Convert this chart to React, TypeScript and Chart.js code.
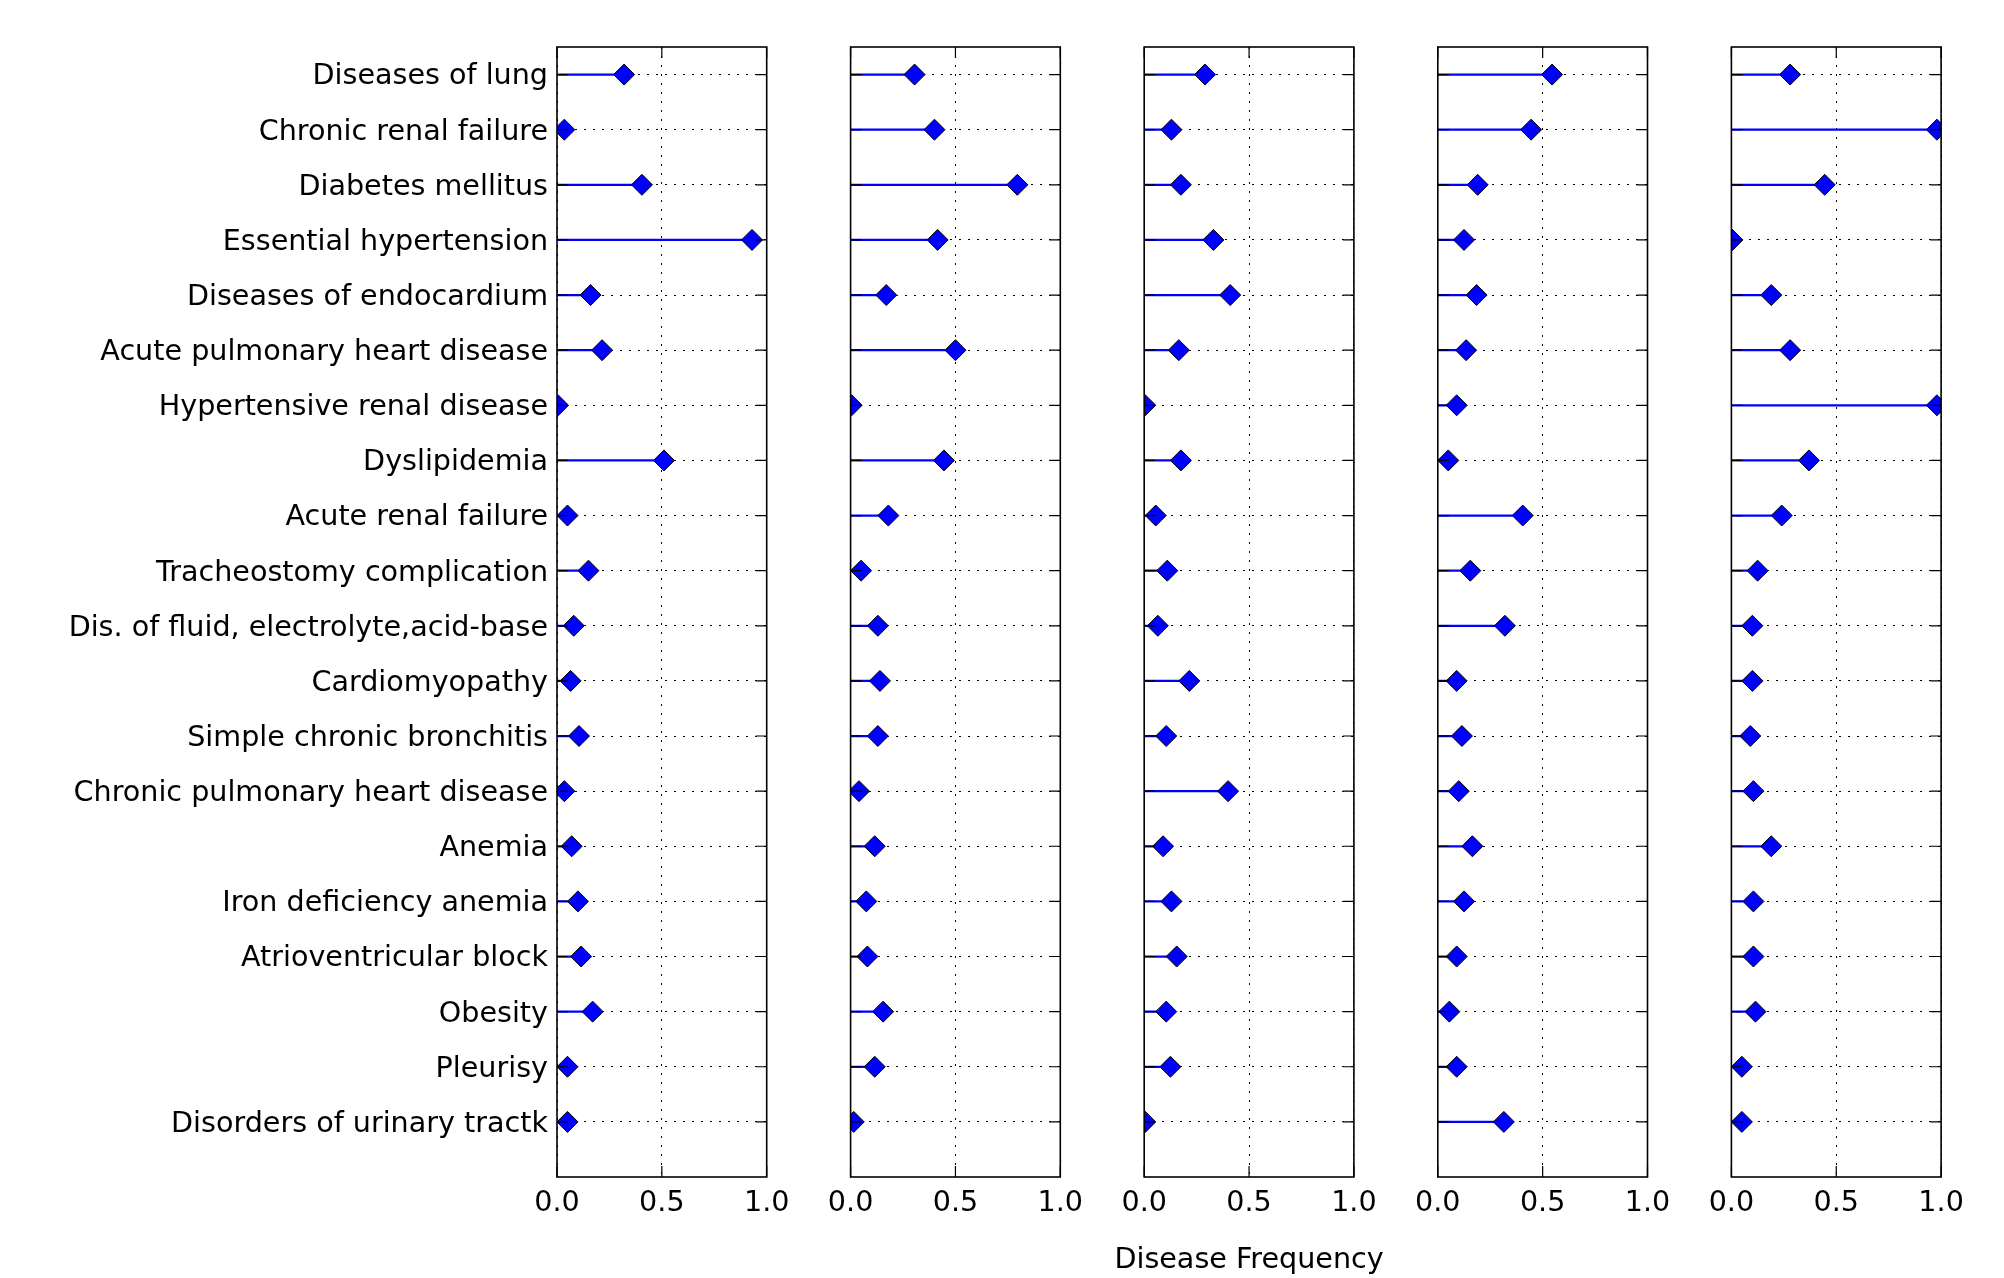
import React, { useEffect, useRef } from "react";
import { Chart, registerables } from "chart.js";

Chart.register(...registerables);

// ---------------- data ----------------
const diseases: string[] = [
  "Diseases of lung",
  "Chronic renal failure",
  "Diabetes mellitus",
  "Essential hypertension",
  "Diseases of endocardium",
  "Acute pulmonary heart disease",
  "Hypertensive renal disease",
  "Dyslipidemia",
  "Acute renal failure",
  "Tracheostomy complication",
  "Dis. of fluid, electrolyte,acid-base",
  "Cardiomyopathy",
  "Simple chronic bronchitis",
  "Chronic pulmonary heart disease",
  "Anemia",
  "Iron deficiency anemia",
  "Atrioventricular block",
  "Obesity",
  "Pleurisy",
  "Disorders of urinary tractk",
];

const panel1: number[] = [0.32, 0.035, 0.405, 0.93, 0.16, 0.215, 0.005, 0.51, 0.05, 0.15, 0.08, 0.065, 0.105, 0.035, 0.07, 0.1, 0.115, 0.17, 0.05, 0.05];
const panel2: number[] = [0.305, 0.4, 0.795, 0.415, 0.17, 0.5, 0.005, 0.445, 0.18, 0.05, 0.13, 0.14, 0.13, 0.04, 0.115, 0.075, 0.08, 0.155, 0.115, 0.015];
const panel3: number[] = [0.29, 0.13, 0.175, 0.33, 0.41, 0.165, 0.005, 0.175, 0.055, 0.11, 0.065, 0.215, 0.105, 0.4, 0.09, 0.13, 0.155, 0.105, 0.125, 0.005];
const panel4: number[] = [0.545, 0.445, 0.19, 0.125, 0.185, 0.135, 0.09, 0.05, 0.405, 0.155, 0.32, 0.09, 0.115, 0.1, 0.165, 0.125, 0.09, 0.055, 0.09, 0.315];
const panel5: number[] = [0.28, 0.98, 0.445, 0.005, 0.19, 0.28, 0.98, 0.37, 0.24, 0.125, 0.1, 0.1, 0.09, 0.105, 0.19, 0.105, 0.105, 0.115, 0.05, 0.05];

const panels: number[][] = [panel1, panel2, panel3, panel4, panel5];
const xTicks: number[] = [0, 0.5, 1.0];
const xAxisTitle = "Disease Frequency";

// ---------------- layout / style ----------------
const W = 2004;
const H = 1278;
const PANEL_LEFTS = [557, 850.6, 1144.2, 1437.8, 1731.4];
const PANEL_W = 209.7;
const TOP = 47;
const BOTTOM = 1177;
const TITLE_Y = 1261;
const FONT = "'DejaVu Sans', sans-serif";
const FONT_SIZE = 28.6;
const BLUE = "#0000ff";

const framePlugin = {
  id: "frame",
  afterDatasetsDraw(chart: any) {
    const { ctx, chartArea: a, scales } = chart;
    ctx.save();
    ctx.strokeStyle = "#000";
    ctx.lineWidth = 1.2;
    const tl = 11;
    ctx.beginPath();
    for (const v of xTicks) {
      const px = scales.x.getPixelForValue(v);
      ctx.moveTo(px, a.bottom);
      ctx.lineTo(px, a.bottom - tl);
      ctx.moveTo(px, a.top);
      ctx.lineTo(px, a.top + tl);
    }
    diseases.forEach((_, i) => {
      const py = scales.y.getPixelForValue(i);
      ctx.moveTo(a.left, py);
      ctx.lineTo(a.left + tl, py);
      ctx.moveTo(a.right, py);
      ctx.lineTo(a.right - tl, py);
    });
    ctx.stroke();
    ctx.lineWidth = 1.6;
    ctx.strokeRect(a.left, a.top, a.right - a.left, a.bottom - a.top);
    ctx.restore();
  },
};

const axisTitlePlugin = {
  id: "axisTitle",
  afterDraw(chart: any) {
    if (!chart.options.plugins.axisTitle?.show) return;
    const { ctx, chartArea: a } = chart;
    ctx.save();
    ctx.font = `${FONT_SIZE}px ${FONT}`;
    ctx.fillStyle = "#000";
    ctx.textAlign = "center";
    ctx.textBaseline = "middle";
    ctx.fillText(xAxisTitle, (a.left + a.right) / 2, TITLE_Y);
    ctx.restore();
  },
};

function makeConfig(k: number): any {
  const values = panels[k];
  const pts = values.map((v, i) => ({ x: v, y: i }));
  const font = { family: FONT, size: FONT_SIZE };
  return {
    type: "bar",
    data: {
      datasets: [
        {
          type: "line",
          data: pts,
          showLine: false,
          pointStyle: "rectRot",
          pointRadius: 10.5,
          pointHoverRadius: 10.5,
          pointBackgroundColor: BLUE,
          pointBorderColor: "#000",
          pointBorderWidth: 1,
          backgroundColor: BLUE,
          borderColor: "#000",
          clip: 0,
          order: 0,
        },
        {
          type: "bar",
          data: pts,
          backgroundColor: BLUE,
          borderWidth: 0,
          barThickness: 1.6,
          clip: 0,
          order: 1,
        },
      ],
    },
    options: {
      indexAxis: "y",
      responsive: false,
      animation: false,
      events: [],
      layout: {
        padding: {
          left: k === 0 ? 0 : PANEL_LEFTS[k],
          right: W - (PANEL_LEFTS[k] + PANEL_W),
          top: TOP,
          bottom: 0,
        },
      },
      plugins: {
        legend: { display: false },
        tooltip: { enabled: false },
        title: { display: false },
        axisTitle: { show: k === 2 },
      },
      scales: {
        x: {
          type: "linear",
          position: "bottom",
          min: 0,
          max: 1,
          afterBuildTicks: (s: any) => {
            s.ticks = xTicks.map((v) => ({ value: v }));
          },
          ticks: {
            callback: (v: any) => Number(v).toFixed(1),
            font,
            color: "#000",
            padding: 9.5,
            maxRotation: 0,
            autoSkip: false,
          },
          grid: { color: "#000", lineWidth: 1, drawTicks: false },
          border: { display: false, dash: [2, 7] },
          title: { display: false },
          afterFit: (s: any) => {
            s.height = H - BOTTOM;
          },
        },
        y: {
          type: "linear",
          min: -0.5,
          max: 20,
          reverse: true,
          offset: false,
          afterBuildTicks: (s: any) => {
            s.ticks = diseases.map((_, i) => ({ value: i }));
          },
          ticks: {
            display: k === 0,
            callback: (v: any) => diseases[v],
            font,
            color: "#000",
            padding: 9,
            labelOffset: 2.5,
            autoSkip: false,
          },
          grid: { color: "#000", lineWidth: 1, drawTicks: false, offset: false },
          border: { display: false, dash: [2, 7] },
          afterFit: (s: any) => {
            s.width = k === 0 ? PANEL_LEFTS[0] : 0;
          },
        },
      },
    },
    plugins: [framePlugin, axisTitlePlugin],
  };
}

export default function App() {
  const refs = useRef<(HTMLCanvasElement | null)[]>([]);

  useEffect(() => {
    const charts: Chart[] = [];
    panels.forEach((_, k) => {
      const c = refs.current[k];
      if (c) charts.push(new Chart(c, makeConfig(k)));
    });
    return () => charts.forEach((ch) => ch.destroy());
  }, []);

  return (
    <div style={{ position: "absolute", left: 0, top: 0, width: W, height: H, background: "#fff" }}>
      {panels.map((_, k) => (
        <canvas
          key={k}
          ref={(el) => {
            refs.current[k] = el;
          }}
          width={W}
          height={H}
          style={{ position: "absolute", left: 0, top: 0, width: W, height: H }}
        />
      ))}
    </div>
  );
}
